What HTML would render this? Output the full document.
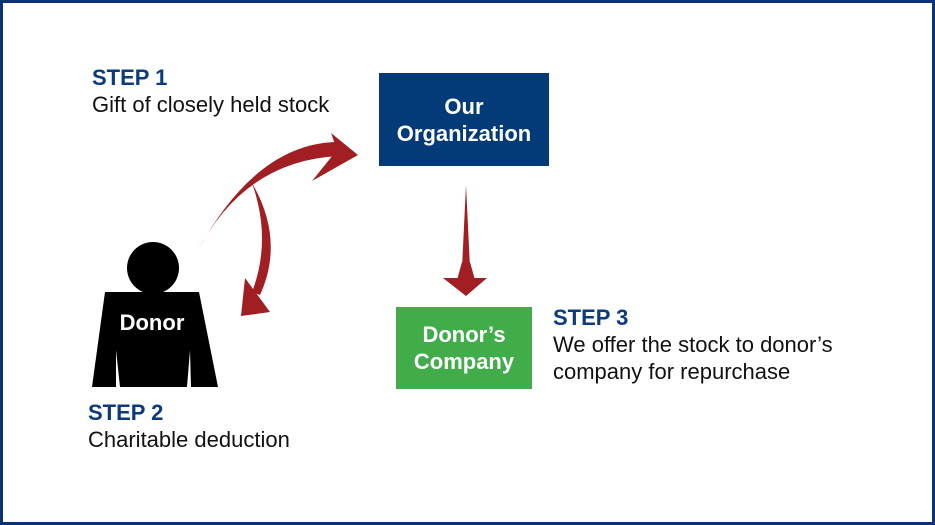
<!DOCTYPE html>
<html><head><style>
body{margin:0;width:935px;height:525px;overflow:hidden;background:#fff;font-family:"Liberation Sans",sans-serif}
.frame{position:absolute;left:0;top:0;width:929px;height:519px;border:3px solid #0a3278}
.t{position:absolute;font-size:22px;color:#111;line-height:27px}
.s{font-weight:bold;color:#0d3a7c;font-size:22px}
.box{position:absolute;color:#fff;font-weight:bold;font-size:22px;text-align:center;display:flex;align-items:center;justify-content:center;line-height:27px}
</style></head><body>
<div class="frame"></div>
<div class="t" style="left:92px;top:64px"><span class="s">STEP 1</span><br>Gift of closely held stock</div>
<div class="t" style="left:88px;top:399px"><span class="s">STEP 2</span><br>Charitable deduction</div>
<div class="t" style="left:553px;top:304px"><span class="s">STEP 3</span><br>We offer the stock to donor’s<br>company for repurchase</div>
<div class="box" style="left:379px;top:73px;width:170px;height:93px;background:#033a78">Our<br>Organization</div>
<div class="box" style="left:396px;top:307px;width:136px;height:82px;background:#41ad4a">Donor’s<br>Company</div>
<svg width="935" height="525" style="position:absolute;left:0;top:0">
<circle cx="153" cy="268" r="26" fill="#000"/>
<polygon points="105,292 199,292 218,387 191,387 190,350 187,387 120,387 116,350 116,387 92,387" fill="#000"/>
<text x="152" y="330" fill="#fff" font-family="Liberation Sans" font-weight="bold" font-size="22" text-anchor="middle">Donor</text>
<path d="M197,252 Q245,160 340,156 L335,142 Q255,145 197,252Z" fill="#a11e22"/>
<polygon points="358,155 331,133 337,150 312,181" fill="#a11e22"/>
<path d="M252,183 Q285,240 260,295 L252,292 Q272,240 252,183Z" fill="#a11e22"/>
<polygon points="241,316 245,278 256,293 270,312" fill="#a11e22"/>
<polygon points="466,185 470,268 462,268" fill="#a11e22"/>
<polygon points="443,278 487,278 466,296" fill="#a11e22"/>
<polygon points="462,262 470,262 475,280 457,280" fill="#a11e22"/>
</svg>
</body></html>
